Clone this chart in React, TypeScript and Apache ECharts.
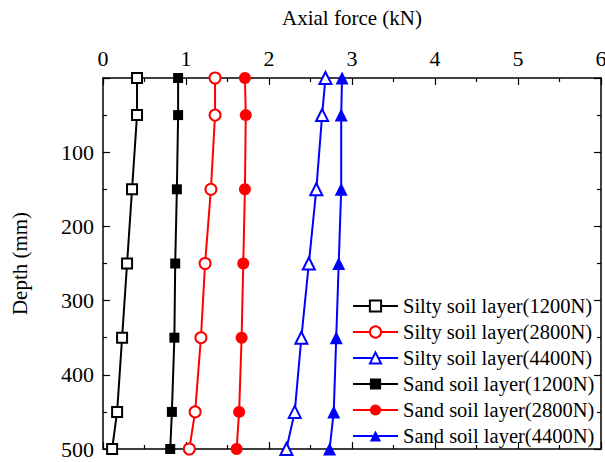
import React, { useEffect, useRef } from "react";
import * as echarts from "echarts";

// Depth of each gauge along the pile (mm)
const depths = [0, 50, 150, 250, 350, 450, 500];

// Axial force at each depth (kN)
const siltyLoad1200 = [0.41, 0.41, 0.35, 0.29, 0.23, 0.17, 0.11];
const siltyLoad2800 = [1.35, 1.35, 1.30, 1.23, 1.18, 1.11, 1.04];
const siltyLoad4400 = [2.68, 2.64, 2.57, 2.48, 2.39, 2.31, 2.21];
const sandLoad1200 = [0.905, 0.905, 0.89, 0.87, 0.86, 0.83, 0.81];
const sandLoad2800 = [1.71, 1.72, 1.71, 1.69, 1.67, 1.64, 1.61];
const sandLoad4400 = [2.88, 2.87, 2.87, 2.84, 2.81, 2.78, 2.73];

const seriesNames = [
  "Silty soil layer(1200N)",
  "Silty soil layer(2800N)",
  "Silty soil layer(4400N)",
  "Sand soil layer(1200N)",
  "Sand soil layer(2800N)",
  "Sand soil layer(4400N)",
];

const FONT = "'Liberation Serif', 'Times New Roman', serif";

function pairs(values: number[]) {
  return values.map((v, i) => [v, depths[i]]);
}

function makeSeries(
  name: string,
  values: number[],
  color: string,
  symbol: string,
  size: number,
  open: boolean
) {
  return {
    name,
    type: "line",
    data: pairs(values),
    symbol,
    symbolSize: size,
    showAllSymbol: true,
    lineStyle: { color, width: 2 },
    itemStyle: open
      ? { color: "#ffffff", borderColor: color, borderWidth: 2 }
      : { color, borderColor: color, borderWidth: 0 },
    emphasis: { disabled: true },
  };
}

export default function App() {
  const ref = useRef<HTMLDivElement>(null);

  useEffect(() => {
    document.body.style.margin = "0";
    if (!ref.current) return;
    const chart = echarts.init(ref.current, undefined, { renderer: "svg" });

    const axisLine = { show: true, onZero: false, lineStyle: { color: "#000", width: 1.5 } };
    const tick = { show: true, inside: true, length: 7, lineStyle: { color: "#000", width: 1.2 } };
    const minor = { show: true, splitNumber: 2, length: 4, lineStyle: { color: "#000", width: 1.2 } };

    chart.setOption({
      animation: false,
      backgroundColor: "#ffffff",
      grid: {
        left: 103,
        right: 4,
        top: 78,
        bottom: 13,
        containLabel: false,
        outerBoundsMode: "none",
      },
      xAxis: [
        {
          type: "value",
          position: "top",
          min: 0,
          max: 6,
          interval: 1,
          name: "Axial force (kN)",
          nameLocation: "middle",
          nameGap: 50,
          nameTextStyle: { fontFamily: FONT, fontSize: 21, color: "#000" },
          axisLine,
          axisTick: tick,
          minorTick: minor,
          splitLine: { show: false },
          axisLabel: { fontFamily: FONT, fontSize: 22, color: "#000", margin: 9 },
        },
        {
          type: "value",
          position: "bottom",
          min: 0,
          max: 6,
          interval: 1,
          axisLine,
          axisTick: tick,
          minorTick: minor,
          splitLine: { show: false },
          axisLabel: { show: false },
        },
      ],
      yAxis: [
        {
          type: "value",
          inverse: true,
          position: "left",
          min: 0,
          max: 500,
          interval: 100,
          name: "Depth (mm)",
          nameLocation: "middle",
          nameGap: 73,
          nameTextStyle: { fontFamily: FONT, fontSize: 21, color: "#000" },
          axisLine,
          axisTick: tick,
          minorTick: minor,
          splitLine: { show: false },
          axisLabel: {
            fontFamily: FONT,
            fontSize: 22,
            color: "#000",
            margin: 9,
            formatter: (v: number) => (v === 0 ? "" : String(v)),
          },
        },
        {
          type: "value",
          inverse: true,
          position: "right",
          min: 0,
          max: 500,
          interval: 100,
          axisLine,
          axisTick: tick,
          minorTick: minor,
          splitLine: { show: false },
          axisLabel: { show: false },
        },
      ],
      legend: {
        orient: "vertical",
        left: 352,
        top: 293,
        padding: 0,
        itemGap: 0,
        itemWidth: 45,
        itemHeight: 14,
        data: seriesNames,
        textStyle: { fontFamily: FONT, fontSize: 20.5, color: "#000", lineHeight: 26 },
        selectedMode: false,
      },
      series: [
        makeSeries(seriesNames[0], siltyLoad1200, "#000000", "rect", 10, true),
        makeSeries(seriesNames[1], siltyLoad2800, "#ff0000", "circle", 11, true),
        makeSeries(seriesNames[2], siltyLoad4400, "#0000ff", "triangle", 12, true),
        makeSeries(seriesNames[3], sandLoad1200, "#000000", "rect", 10, false),
        makeSeries(seriesNames[4], sandLoad2800, "#ff0000", "circle", 12, false),
        makeSeries(seriesNames[5], sandLoad4400, "#0000ff", "triangle", 13, false),
      ],
    });

    return () => chart.dispose();
  }, []);

  return <div ref={ref} style={{ width: 605, height: 462 }} />;
}
